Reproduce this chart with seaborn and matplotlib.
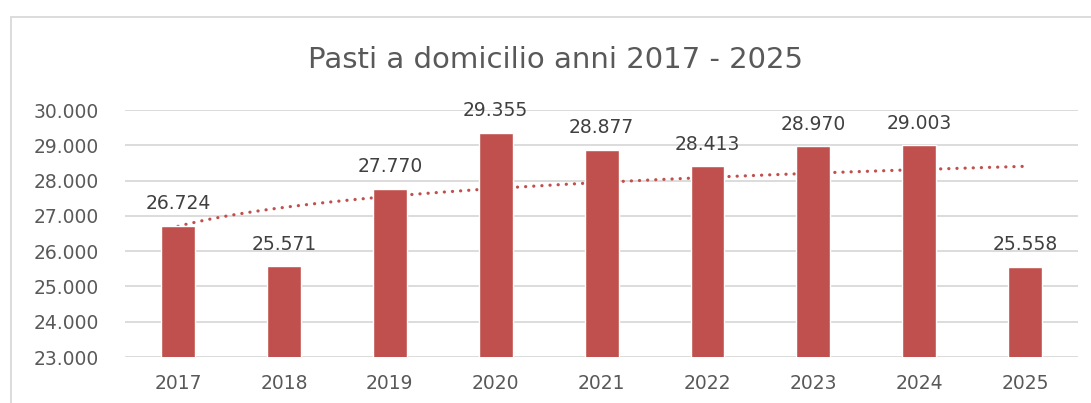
import matplotlib
matplotlib.use("Agg")
import matplotlib.pyplot as plt
import matplotlib.patches as mpatches
import seaborn as sns
import pandas as pd
import numpy as np

years = ["2017", "2018", "2019", "2020", "2021", "2022", "2023", "2024", "2025"]
meals = [26724, 25571, 27770, 29355, 28877, 28413, 28970, 29003, 25558]
title = "Pasti a domicilio anni 2017 - 2025"

BAR = "#C0504D"
GRID = "#D9D9D9"
TXT = "#595959"


def it_fmt(v):
    return f"{v:,.0f}".replace(",", ".")


df = pd.DataFrame({"anno": years, "pasti": meals})

sns.set_theme(style="white")
plt.rcParams["font.family"] = ["DejaVu Sans"]

fig = plt.figure(figsize=(10.91, 4.03), dpi=100)
ax = fig.add_axes([0.1146, 0.1141, 0.8736, 0.6129])

sns.barplot(data=df, x="anno", y="pasti", color=BAR, width=0.32,
            saturation=1, ax=ax, zorder=3)

# logarithmic trend line (like Excel)
xs = np.arange(1, len(meals) + 1)
b, a = np.polyfit(np.log(xs), meals, 1)
xt = np.linspace(1, len(meals), 200)
ax.plot(xt - 1, a + b * np.log(xt), color=BAR, lw=2.3,
        linestyle=(0, (0.05, 2.5)), dash_capstyle="round", zorder=2)

ax.set_ylim(23000, 30000)
ax.set_yticks(range(23000, 30001, 1000))
ax.set_yticklabels([it_fmt(v) for v in range(23000, 30001, 1000)])
ax.set_xlim(-0.5, len(years) - 0.5)
ax.grid(axis="y", color=GRID, lw=1.3, zorder=0)
ax.set_axisbelow(True)
ax.set_xlabel("")
ax.set_ylabel("")
ax.tick_params(axis="both", length=0, labelsize=13.5, labelcolor=TXT)
ax.tick_params(axis="y", pad=19)
ax.tick_params(axis="x", pad=12)
sns.despine(ax=ax, left=True, bottom=True)

for container in ax.containers:
    ax.bar_label(container, labels=[it_fmt(v) for v in meals], padding=9,
                 fontsize=13.5, color="#404040")

fig.text(0.509, 0.85, title, ha="center", va="center", fontsize=21,
         color=TXT)

fig.patches.append(mpatches.Rectangle((11 / 1091, -0.2), 1.2, 0.2 + 1 - 17 / 403,
                                      transform=fig.transFigure, fill=False,
                                      edgecolor=GRID, lw=1.3))

fig.savefig("out.png", dpi=100)
